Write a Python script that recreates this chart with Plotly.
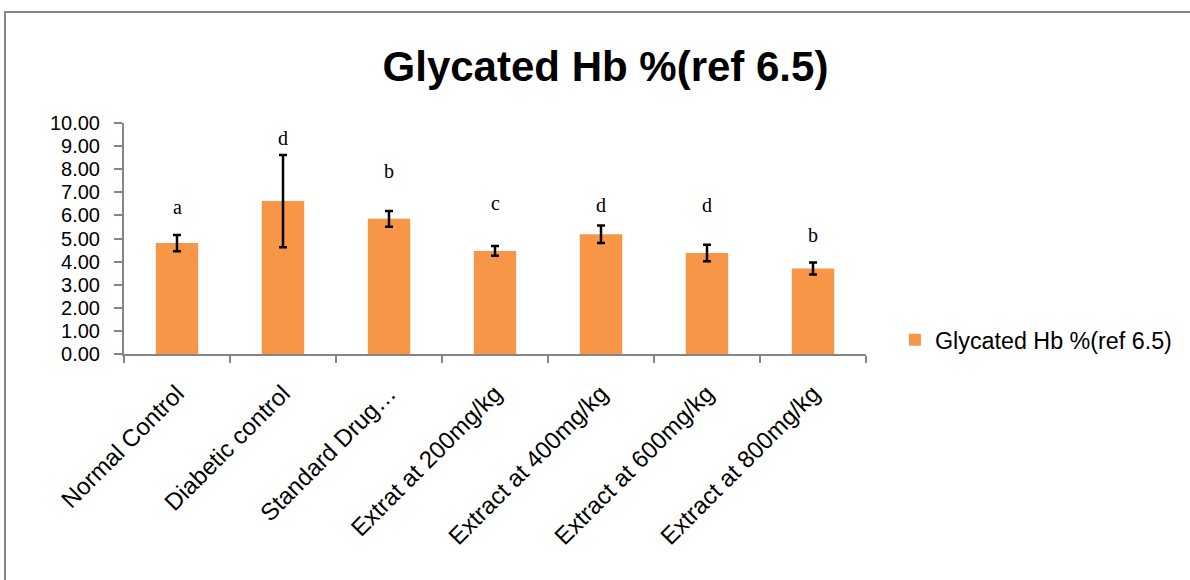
import plotly.graph_objects as go

categories = ["Normal Control", "Diabetic control", "Standard Drug…", "Extrat at 200mg/kg",
              "Extract at 400mg/kg", "Extract at 600mg/kg", "Extract at 800mg/kg"]
values = [4.80, 6.62, 5.85, 4.46, 5.18, 4.37, 3.70]
errors = [0.35, 2.00, 0.34, 0.21, 0.38, 0.36, 0.26]
letters = ["a", "d", "b", "c", "d", "d", "b"]
letter_y = [6.38, 9.34, 7.94, 6.54, 6.45, 6.45, 5.15]
y_ticks = [0, 1, 2, 3, 4, 5, 6, 7, 8, 9, 10]

SANS = "Liberation Sans, Arial, sans-serif"

L, T, R, B = 124, 123, 324, 226
PW, PH = 742, 231

fig = go.Figure()
fig.add_trace(go.Bar(
    x=categories, y=values, name="Glycated Hb %(ref 6.5)",
    marker=dict(color="#F79646", line=dict(width=0)),
    width=0.4,
    error_y=dict(type="data", array=errors, visible=True, color="black", thickness=2.5, width=4),
))

for c, l, ly in zip(categories, letters, letter_y):
    fig.add_annotation(x=c, y=ly, text=l, showarrow=False,
                       font=dict(family="Liberation Serif, Times New Roman, serif", size=20, color="black"))

fig.update_layout(
    width=1190, height=580,
    paper_bgcolor="white", plot_bgcolor="white",
    margin=dict(l=L, r=R, t=T, b=B, autoexpand=False),
    title=dict(text="<b>Glycated Hb %(ref 6.5)</b>", x=0.5088, xanchor="center", y=0.886, yanchor="middle",
               font=dict(family=SANS, size=42, color="black")),
    showlegend=True,
    legend=dict(x=1.039, y=0.06, xanchor="left", yanchor="middle",
                font=dict(family=SANS, size=23.3, color="black"), itemwidth=30),
    xaxis=dict(showline=True, linecolor="#868686", linewidth=2, ticks="outside", tickson="boundaries",
               ticklen=7, tickcolor="#868686", tickwidth=2, tickangle=-45, ticklabelstandoff=14,
               tickfont=dict(family=SANS, size=24, color="black"), showgrid=False),
    yaxis=dict(range=[0, 10], tickvals=y_ticks, tickformat=".2f", showline=True, linecolor="#868686",
               linewidth=2, ticks="outside", ticklen=8, tickcolor="#868686", tickwidth=2,
               ticklabelstandoff=10,
               tickfont=dict(family=SANS, size=20, color="black"), showgrid=False, zeroline=False),
    shapes=[dict(type="rect", xref="paper", yref="paper",
                 x0=(5 - L) / PW, x1=(1210 - L) / PW, y0=(354 - 600) / PH, y1=(354 - 12) / PH,
                 line=dict(color="#868686", width=2), fillcolor="rgba(0,0,0,0)", layer="below")],
)

fig.write_html("out.html", config={"displayModeBar": False},
               post_script="document.body.style.margin='0';")
